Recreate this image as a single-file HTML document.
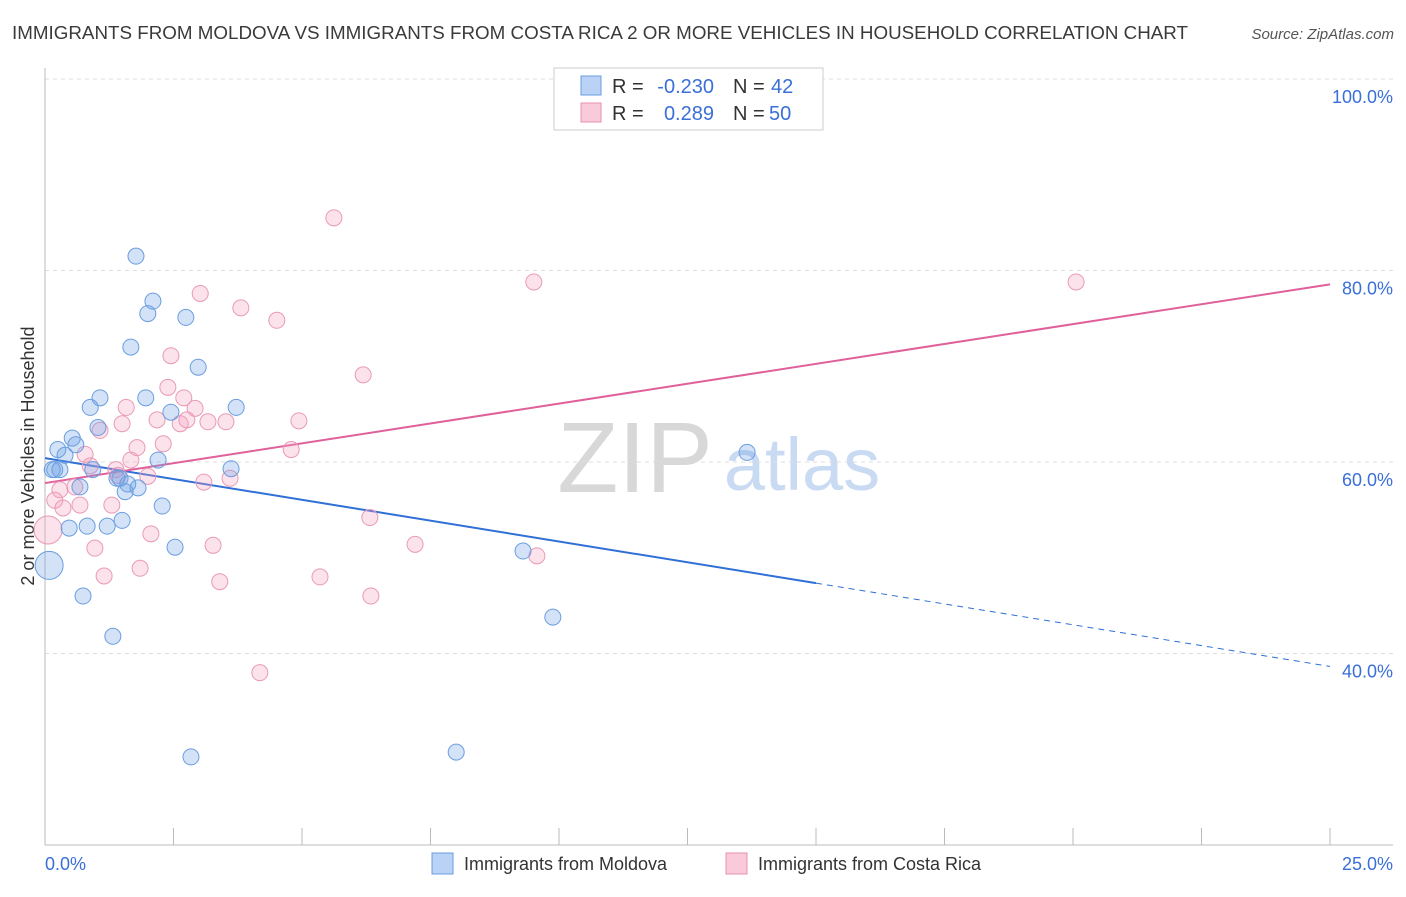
<!DOCTYPE html>
<html><head><meta charset="utf-8"><style>
body{margin:0;background:#fff;font-family:"Liberation Sans",sans-serif;}
svg text{font-family:"Liberation Sans",sans-serif;}
</style></head><body>
<svg id="chart" width="1406" height="892" viewBox="0 0 1406 892" xmlns="http://www.w3.org/2000/svg">
<text x="12" y="39" font-size="18" fill="#3a3a3a" textLength="1176" lengthAdjust="spacingAndGlyphs">IMMIGRANTS FROM MOLDOVA VS IMMIGRANTS FROM COSTA RICA 2 OR MORE VEHICLES IN HOUSEHOLD CORRELATION CHART</text>
<text x="1394" y="39" font-size="15" fill="#555" font-style="italic" text-anchor="end">Source: ZipAtlas.com</text>
<text transform="translate(34,456) rotate(-90)" font-size="18" fill="#333" text-anchor="middle">2 or more Vehicles in Household</text>
<g>
<text x="635" y="492" font-size="100" fill="#d8d8d8" font-family="Liberation Serif,serif" text-anchor="middle">ZIP</text>
<text x="802" y="490" font-size="74" fill="#c9daf3" text-anchor="middle">atlas</text>
</g>
<g id="grid"></g><g id="axes"></g><g id="lines"></g><g id="points"></g>
<g>
<rect x="554" y="68" width="269" height="62" fill="#fff" stroke="#ccc"/>
<rect x="581" y="76" width="20" height="19" fill="#b9d2f5" stroke="#6a9ee0"/>
<rect x="581" y="103" width="20" height="19" fill="#f9cad9" stroke="#e890b0"/>
<text x="612" y="93" font-size="20" fill="#333">R =</text>
<text x="714" y="93" font-size="20" fill="#3a6fd8" text-anchor="end">-0.230</text>
<text x="733" y="93" font-size="20" fill="#333">N =</text>
<text x="771" y="93" font-size="20" fill="#3a6fd8">42</text>
<text x="612" y="120" font-size="20" fill="#333">R =</text>
<text x="714" y="120" font-size="20" fill="#3a6fd8" text-anchor="end">0.289</text>
<text x="733" y="120" font-size="20" fill="#333">N =</text>
<text x="769" y="120" font-size="20" fill="#3a6fd8">50</text>
</g>
<g>
<rect x="432" y="853" width="21" height="21" fill="#b9d2f5" stroke="#6a9ee0"/>
<text x="464" y="870" font-size="18" fill="#333">Immigrants from Moldova</text>
<rect x="726" y="853" width="21" height="21" fill="#f9cad9" stroke="#e890b0"/>
<text x="758" y="870" font-size="18" fill="#333">Immigrants from Costa Rica</text>
</g>
</svg>
<script>
const blueX=[0.08,0.14,0.19,0.29,0.25,0.39,0.53,0.60,0.68,0.47,0.82,0.74,0.88,0.93,1.07,1.03,1.21,1.32,1.40,1.46,1.50,1.56,1.61,1.81,1.67,1.77,2.00,2.10,1.96,2.20,2.28,2.45,2.53,2.74,2.98,2.84,3.62,3.72,9.30,9.88,13.66,8.00];
const blueY=[49.2,59.2,59.2,59.2,61.3,60.7,62.5,61.8,57.4,53.1,53.3,46.0,65.7,59.2,66.7,63.6,53.3,41.8,58.3,58.3,53.9,56.9,57.7,57.3,72.0,81.5,75.5,76.8,66.7,60.2,55.4,65.2,51.1,75.1,69.9,29.2,59.3,65.7,50.7,43.8,61.0,29.7];
const pinkX=[0.06,0.19,0.29,0.35,0.58,0.68,0.78,0.88,0.97,1.07,1.15,1.30,1.38,1.42,1.50,1.58,1.67,1.79,1.85,2.00,2.06,2.18,2.30,2.39,2.45,2.63,2.70,2.76,2.92,3.02,3.09,3.17,3.27,3.40,3.52,3.60,3.81,4.18,4.51,4.79,4.94,5.35,5.62,6.19,6.32,6.34,7.20,9.57,9.51,20.06];
const pinkY=[52.9,56.0,57.1,55.2,57.4,55.5,60.8,59.6,51.0,63.3,48.1,55.5,59.2,58.6,64.0,65.7,60.2,61.5,48.9,58.5,52.5,64.4,61.9,67.8,71.1,64.0,66.7,64.4,65.6,77.6,57.9,64.2,51.3,47.5,64.2,58.3,76.1,38.0,74.8,61.3,64.3,48.0,85.5,69.1,54.2,46.0,51.4,50.2,78.8,78.8];
const blueFit=[60.4,-0.87];
const pinkFit=[57.8,0.83];
const yTicks=[100,80,60,40];
const yTickLabels=["100.0%","80.0%","60.0%","40.0%"];
const xTickLabels=["0.0%","25.0%"];
const X=v=>45+v/25*1285;
const Y=v=>79+(100-v)*9.575;
const NS="http://www.w3.org/2000/svg";
function mk(t,a,p){const e=document.createElementNS(NS,t);for(const k in a)e.setAttribute(k,a[k]);p.appendChild(e);return e;}
const grid=document.getElementById('grid'),axes=document.getElementById('axes'),lines=document.getElementById('lines'),pts=document.getElementById('points');
yTicks.forEach((t,i)=>{
 const l=mk('line',{x1:45,x2:1393,y1:Y(t),y2:Y(t),stroke:'#ddd','stroke-dasharray':'4,4'},grid);
 
 
 const tx=mk('text',{x:1393,y:Y(t)+24,'font-size':18,fill:'#3a6fd8','text-anchor':'end'},axes);
 tx.textContent=yTickLabels[i];
 
 
});
const xa=mk('line',{x1:45,x2:1393,y1:845,y2:845,stroke:'#bbb'},axes);


const ya=mk('line',{x1:45,x2:45,y1:68,y2:845,stroke:'#bbb'},axes);


for(let i=1;i<=10;i++){const tk=mk('line',{x1:X(i*2.5),x2:X(i*2.5),y1:828,y2:845,stroke:'#bbb'},axes);
 
 }
const xl0=mk('text',{x:45,y:870,'font-size':18,fill:'#3a6fd8'},axes);xl0.textContent=xTickLabels[0];


const xl1=mk('text',{x:1393,y:870,'font-size':18,fill:'#3a6fd8','text-anchor':'end'},axes);xl1.textContent=xTickLabels[1];


function drawPts(xs,ys,fill,stroke,name){xs.forEach((x,i)=>{const r=(i===0)?14:8;
 const c=mk('circle',{cx:X(x),cy:Y(ys[i]),r:r,fill:fill,stroke:stroke,'stroke-width':1},pts);
 
 });}
drawPts(pinkX,pinkY,'rgba(244,160,190,0.3)','#e99ab6','costa-rica-point');
drawPts(blueX,blueY,'rgba(110,160,230,0.3)','#6a9ee0','moldova-point');
const f=(fit,x)=>fit[0]+fit[1]*x;
const bl=mk('line',{x1:X(0),y1:Y(f(blueFit,0)),x2:X(15),y2:Y(f(blueFit,15)),stroke:'#2f6fd6','stroke-width':2},lines);


const bd=mk('line',{x1:X(15),y1:Y(f(blueFit,15)),x2:X(25),y2:Y(f(blueFit,25)),stroke:'#2f6fd6','stroke-width':1,'stroke-dasharray':'6,5'},lines);


const pl=mk('line',{x1:X(0),y1:Y(f(pinkFit,0)),x2:X(25),y2:Y(f(pinkFit,25)),stroke:'#e0609a','stroke-width':2},lines);


</script>
</body></html>
